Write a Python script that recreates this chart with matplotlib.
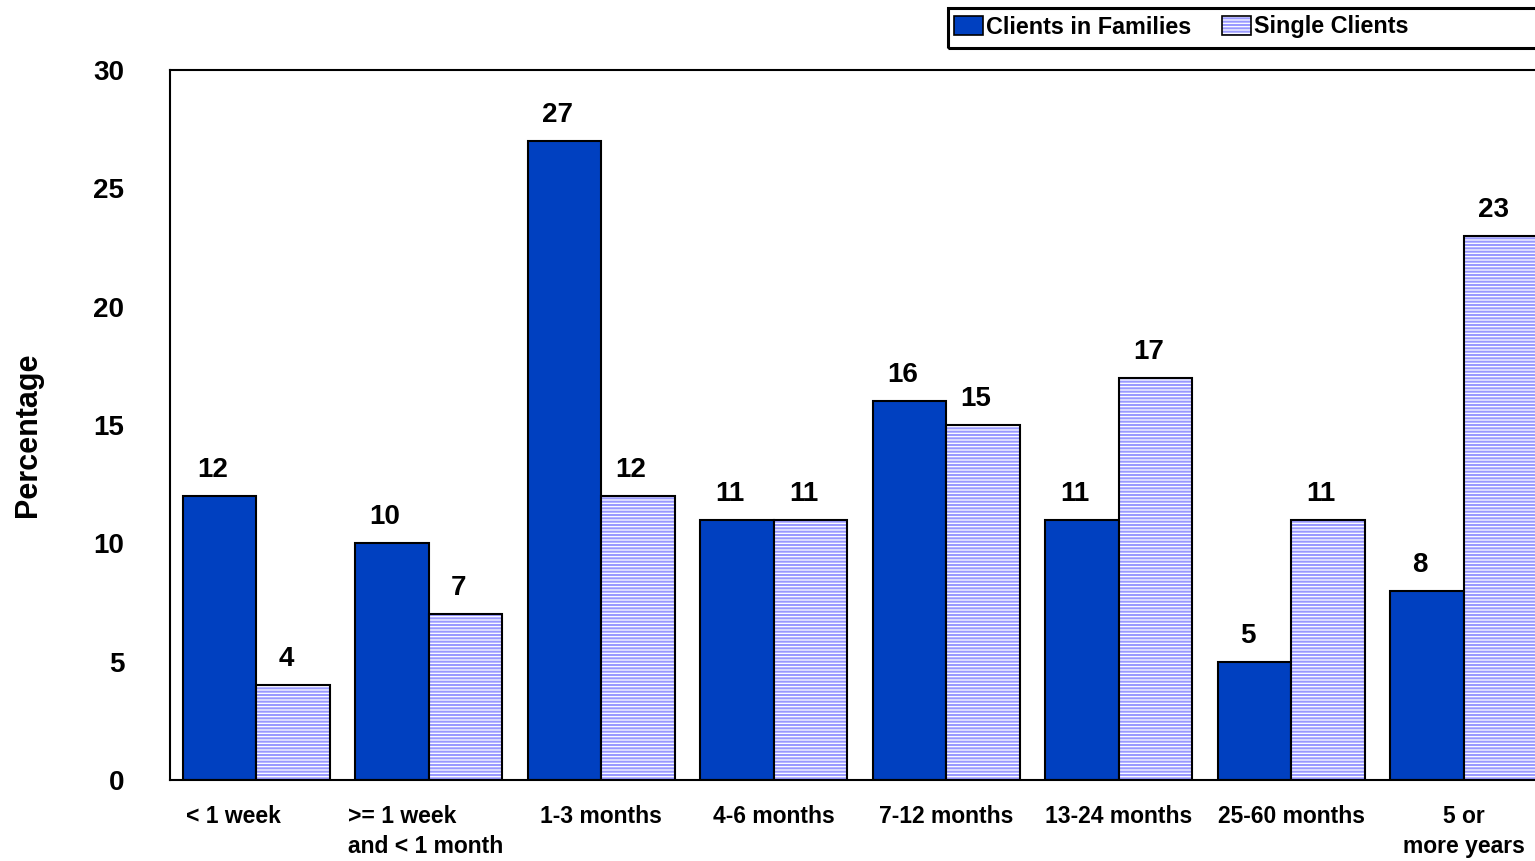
import numpy as np
import matplotlib
matplotlib.use("Agg")
from matplotlib import pyplot as plt
from matplotlib.patches import Patch, Rectangle
from matplotlib.legend_handler import HandlerTuple

plt.rcParams['font.family'] = ['Liberation Sans', 'DejaVu Sans']
plt.rcParams['font.weight'] = 'bold'
plt.rcParams['hatch.linewidth'] = 1.5

# data
categories = ["< 1 week", ">= 1 week\nand < 1 month", "1-3 months", "4-6 months",
              "7-12 months", "13-24 months", "25-60 months", "5 or\nmore years"]
families = [12, 10, 27, 11, 16, 11, 5, 8]
singles = [4, 7, 12, 11, 15, 17, 11, 23]
yticks = [0, 5, 10, 15, 20, 25, 30]

blue = "#0040c0"
lilac = "#9999ff"

fig = plt.figure(figsize=(15.35, 8.61), dpi=100)
ax = fig.add_axes([170 / 1535, 81 / 861, 1380 / 1535, 710 / 861])

x = np.arange(len(categories))
w = 0.427

ax.bar(x - w / 2, families, w, color=blue, edgecolor="black", linewidth=1.5)
# hatch drawn in lilac, black outline on top
ax.bar(x + w / 2, singles, w, color="white", edgecolor=lilac, hatch="-----", linewidth=0)
ax.bar(x + w / 2, singles, w, fill=False, edgecolor="black", linewidth=1.5)

for i in range(len(categories)):
    ax.annotate(str(families[i]), (x[i] - w / 2, families[i] + 0.55), xytext=(-5, 0),
                textcoords="offset points", ha="center", va="bottom",
                fontsize=20, fontweight="bold")
    ax.annotate(str(singles[i]), (x[i] + w / 2, singles[i] + 0.55), xytext=(-5, 0),
                textcoords="offset points", ha="center", va="bottom",
                fontsize=20, fontweight="bold")

ax.set_xlim(-0.5, len(categories) - 0.5)
ax.set_ylim(0, 30)
ax.set_yticks(yticks)
ax.set_yticklabels([str(t) for t in yticks], fontsize=20, fontweight="bold")
ax.tick_params(axis="y", length=0, pad=33)
ax.set_xticks([])

# category labels
for i, lab in enumerate(categories):
    if i == 1:
        ax.text(x[i] - 0.47, -1.05, lab, ha="left", va="top", fontsize=16.5,
                fontweight="bold", linespacing=1.4)
    elif i == 0:
        ax.text(x[i] - 0.13, -1.05, lab, ha="center", va="top", fontsize=16.5,
                fontweight="bold")
    else:
        ax.text(x[i], -1.05, lab, ha="center", va="top", fontsize=16.5,
                fontweight="bold", linespacing=1.4, multialignment="center")

fig.text(28 / 1535, 1 - 435 / 861, "Percentage", rotation=90, ha="center", va="center",
         fontsize=22, fontweight="bold")

for s in ax.spines.values():
    s.set_linewidth(1.5)

# legend
fig.patches.append(Rectangle((948 / 1535, 1 - 48 / 861), 600 / 1535, 40 / 861,
                             transform=fig.transFigure, fill=False, edgecolor="black",
                             linewidth=2.2))
h_fam = Patch(facecolor=blue, edgecolor="black", linewidth=1.2)
h_sgl = (Patch(facecolor="white", edgecolor=lilac, hatch="-----", linewidth=0),
         Patch(fill=False, edgecolor="black", linewidth=1.2))
leg = fig.legend([h_fam, h_sgl], ["Clients in Families", "Single Clients"],
                 handler_map={tuple: HandlerTuple(ndivide=1)},
                 loc="center left", bbox_to_anchor=(954 / 1535, 1 - 27 / 861),
                 ncol=2, frameon=False, fontsize=16.8, handlelength=1.25,
                 handleheight=0.85, handletextpad=0.12, columnspacing=1.3,
                 borderpad=0, borderaxespad=0)
for t in leg.get_texts():
    t.set_fontweight("bold")

fig.savefig("out.png", dpi=100)
